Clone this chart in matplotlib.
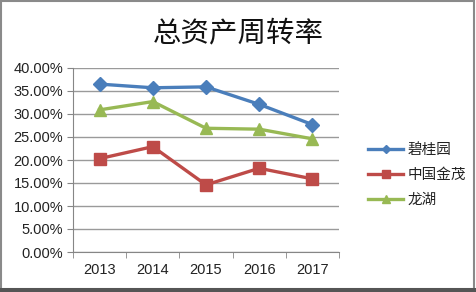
import matplotlib
matplotlib.use("Agg")
import matplotlib.pyplot as plt
from matplotlib.ticker import FuncFormatter, MultipleLocator
from matplotlib.patches import Rectangle

plt.rcParams['font.family'] = ['Noto Sans CJK SC', 'DejaVu Sans']

years = ["2013", "2014", "2015", "2016", "2017"]
bgy = [36.5, 35.7, 35.9, 32.1, 27.7]
zgjm = [20.3, 22.9, 14.6, 18.2, 15.9]
lh = [30.9, 32.7, 26.9, 26.7, 24.6]
names = ["碧桂园", "中国金茂", "龙湖"]
title = "总资产周转率"

fig = plt.figure(figsize=(4.76, 2.92), dpi=100)
ax = fig.add_axes([73/476, 1-252/292, (339-73)/476, (252-68)/292])

x = list(range(len(years)))
ax.plot(x, bgy, color="#4A7EBB", lw=2.4, marker="D", ms=7, label=names[0])
ax.plot(x, zgjm, color="#BE4B48", lw=2.4, marker="s", ms=9, label=names[1])
ax.plot(x, lh, color="#98B954", lw=2.4, marker="^", ms=9, label=names[2])

ax.set_xlim(-0.5, len(years) - 0.5)
ax.set_ylim(0, 40)
ax.yaxis.set_major_locator(MultipleLocator(5))
ax.yaxis.set_major_formatter(FuncFormatter(lambda v, p: f"{v:.2f}%"))
ax.set_xticks(x)
ax.set_xticklabels(years)
ax.set_xticks([i - 0.5 for i in range(len(years) + 1)], minor=True)
ax.tick_params(axis='x', which='major', length=0, pad=8)
ax.tick_params(axis='x', which='minor', length=4, color="#868686")
ax.tick_params(axis='y', length=4, color="#868686", pad=3)
for lab in ax.get_xticklabels() + ax.get_yticklabels():
    lab.set_fontfamily(['Liberation Sans', 'DejaVu Sans'])
    lab.set_fontsize(10.5)
    lab.set_color("#222222")
ax.grid(axis='y', color="#9a9a9a", lw=1)
ax.set_axisbelow(True)
for s in ["top", "right"]:
    ax.spines[s].set_visible(False)
ax.spines["left"].set_color("#868686")
ax.spines["bottom"].set_color("#868686")

fig.text(238/476, 1-33/292, title, ha="center", va="center", fontsize=20.5, color="#111111")

leg = fig.legend(loc="upper left", bbox_to_anchor=(355/476, 1-130/292), frameon=False,
                 fontsize=10.5, handlelength=2.4, labelspacing=0.75, handletextpad=0.3,
                 markerscale=0.6)
for t in leg.get_texts():
    t.set_color("#222222")

fig.patches.append(Rectangle((0.002, 0.01), 0.994, 0.985, transform=fig.transFigure,
                             fill=False, edgecolor="#8a8a8a", lw=1.5))
fig.patches.append(Rectangle((0, 0), 1, 0.012, transform=fig.transFigure,
                             facecolor="#555555", edgecolor="none"))

fig.savefig("out.png", dpi=100)
